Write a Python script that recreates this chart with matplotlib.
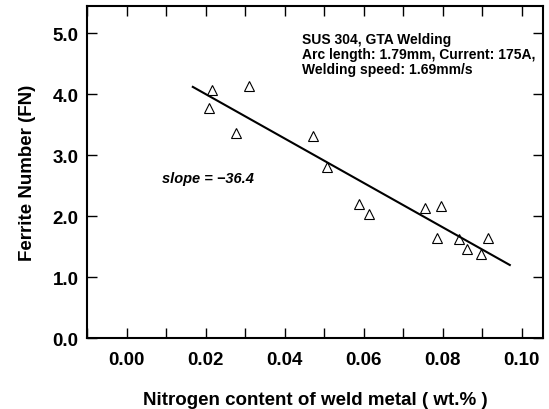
import numpy as np
import matplotlib.pyplot as plt

# nitrogen content (wt.%) and ferrite number
nitrogen = [0.0215, 0.0207, 0.0310, 0.0277, 0.0472, 0.0506, 0.0588, 0.0613,
            0.0756, 0.0795, 0.0785, 0.0841, 0.0861, 0.0896, 0.0914]
ferrite = [4.07, 3.78, 4.13, 3.36, 3.32, 2.80, 2.20, 2.04,
           2.13, 2.17, 1.64, 1.63, 1.46, 1.38, 1.64]

# fitted line
fit_x = [0.0167, 0.0970]
fit_slope = -36.4
fit_intercept = 4.73

xticks = [0.00, 0.02, 0.04, 0.06, 0.08, 0.10]
yticks = [0.0, 1.0, 2.0, 3.0, 4.0, 5.0]

plt.rcParams['font.family'] = ['Liberation Sans', 'DejaVu Sans']

fig = plt.figure(figsize=(5.49, 4.10), dpi=100)
ax = fig.add_axes([0.1585, 0.173, 0.8305, 0.810])

ax.plot(nitrogen, ferrite, '^', mfc='none', mec='black', ms=7, mew=0.8, ls='none')
fx = np.array(fit_x)
ax.plot(fx, fit_intercept + fit_slope * fx, color='black', lw=1.5)

ax.set_xlim(-0.0101, 0.1054)
ax.set_ylim(0, 5.45)

ax.set_xticks(xticks)
ax.set_xticklabels(['%.2f' % v for v in xticks])
ax.set_xticks(np.arange(-0.01, 0.105, 0.01), minor=True)
ax.set_yticks(yticks)
ax.set_yticklabels(['%.1f' % v for v in yticks])

ax.tick_params(which='both', direction='in', top=True, right=True,
               length=7, width=1, labelsize=13.5)
ax.tick_params(axis='x', pad=9)
ax.tick_params(axis='y', pad=6)
for lab in ax.get_xticklabels() + ax.get_yticklabels():
    lab.set_fontweight('bold')
for s in ax.spines.values():
    s.set_linewidth(1.5)

ax.set_xlabel('Nitrogen content of weld metal ( wt.% )', fontsize=13.5,
              fontweight='bold', labelpad=17)
ax.set_ylabel('Ferrite Number (FN)', fontsize=13.5, fontweight='bold', labelpad=12)

ax.text(0.0444, 4.66, 'SUS 304, GTA Welding\nArc length: 1.79mm, Current: 175A,\nWelding speed: 1.69mm/s',
        fontsize=10, fontweight='bold', va='center', ha='left', linespacing=1.1)
ax.text(0.0089, 2.62, 'slope = \u221236.4', fontsize=10.5, fontweight='bold',
        style='italic', va='center', ha='left')

fig.savefig('out.png', dpi=100)
